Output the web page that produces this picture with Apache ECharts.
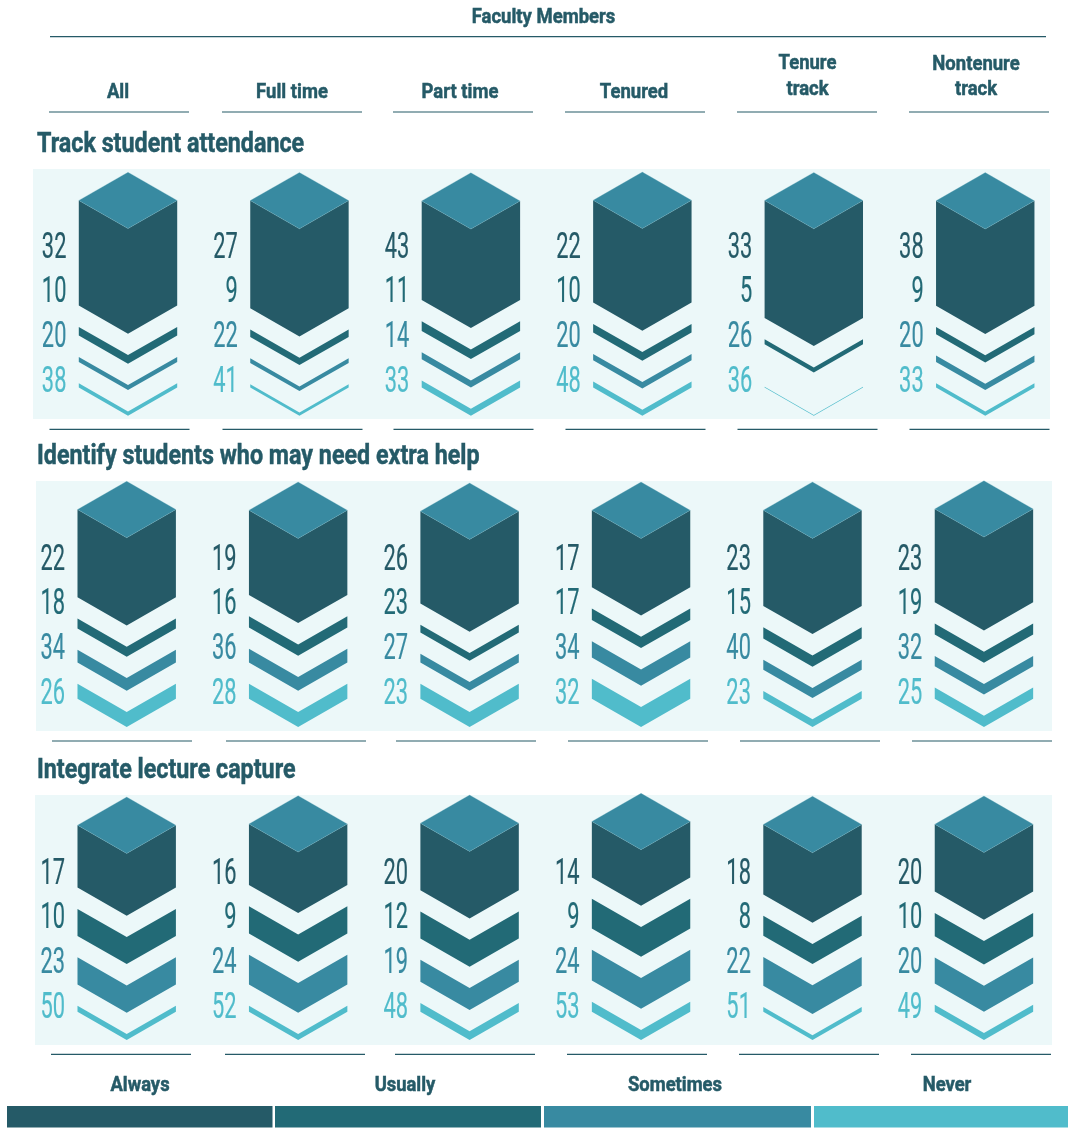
<!DOCTYPE html>
<html>
<head>
<meta charset="utf-8">
<style>html,body{margin:0;padding:0;background:#fff}#chart{width:1068px;height:1128px}</style>
<script src="https://cdn.jsdelivr.net/npm/echarts@6/dist/echarts.min.js"></script>
</head>
<body>
<div id="chart"></div>
<script>
// ---- text ----
const overTitle = 'Faculty Members';
const columnHeads = [['All'], ['Full time'], ['Part time'], ['Tenured'], ['Tenure', 'track'], ['Nontenure', 'track']];
const rowTitles = ['Track student attendance', 'Identify students who may need extra help', 'Integrate lecture capture'];
const responses = ['Always', 'Usually', 'Sometimes', 'Never'];
const colours = ['#255a67', '#226a76', '#388aa1', '#50bccb'];
const capColour = '#388aa1';
const ink = '#255a67';

// ---- printed percentages (column by column) ----
const attendanceLabels = [[32, 10, 20, 38], [27, 9, 22, 41], [43, 11, 14, 33], [22, 10, 20, 48], [33, 5, 26, 36], [38, 9, 20, 33]];
const helpLabels = [[22, 18, 34, 26], [19, 16, 36, 28], [26, 23, 27, 23], [17, 17, 34, 32], [23, 15, 40, 23], [23, 19, 32, 25]];
const captureLabels = [[17, 10, 23, 50], [16, 9, 24, 52], [20, 12, 19, 48], [14, 9, 24, 53], [18, 8, 22, 51], [20, 10, 20, 49]];

// ---- drawn depth of each band (column by column) ----
const attendanceDepths = [[105.2, 8.7, 5, 4.3], [107.7, 7.3, 4.7, 3.3], [99, 9.7, 7, 7], [102.3, 8.7, 6.3, 6], [117.3, 5, 0, 0.7], [104.9, 7.3, 6.3, 4.3]];
const helpDepths = [[87.7, 10, 12.7, 15], [84.7, 11.3, 13.7, 15], [92.3, 7.7, 8.7, 15], [77, 11.3, 16.3, 20], [95.7, 11.3, 10, 7.7], [93.4, 11, 10.3, 11.3]];
const captureDepths = [[62.4, 27, 27.3, 6], [61, 27.3, 29.7, 6], [67, 27, 22, 8.7], [56, 29.7, 30.7, 10], [70, 20, 28.7, 4.7], [67.3, 23.3, 26, 7]];

const labelSets = [attendanceLabels, helpLabels, captureLabels];
const depthSets = [attendanceDepths, helpDepths, captureDepths];

// ---- layout constants ----
const PANEL_H = 250, APEX = 28.2, GAP = 21.3, HALF = 0.287, LABEL_DX = 61.6;
const bottoms = [3.3, 4, 5];
const labelLevels = [170.3, 125.8, 81.3, 36.3];
const panels = [{x: 33, w: 1017, y: 169}, {x: 36, w: 1016, y: 481}, {x: 35, w: 1017, y: 795}];
const firstCentre = [128, 126.7, 126.7], COL = 171.45;
const ruleRows = [
  {y: 429.3, xs: [49.5, 222.5, 393.5, 565.5, 737.5, 909.5]},
  {y: 741, xs: [52, 226, 396, 568, 740, 912]},
  {y: 1054.3, xs: [51, 225, 395, 567, 739, 911]}
];

const headFont = 'bold 21px Roboto';
function txt(text, x, y, font, sx, align, fill) {
  return {type: 'text', x, y, scaleX: sx, silent: true, z: 3,
    style: {text, font, fill: fill || ink, stroke: fill || ink, lineWidth: 0.5, align: align || 'center', verticalAlign: 'middle'}};
}
function rule(x1, x2, y, w) {
  return {type: 'line', silent: true, z: 3, shape: {x1, y1: y, x2, y2: y}, style: {stroke: ink, lineWidth: w || 1.2}};
}

const graphics = [];
panels.forEach(p => graphics.push({type: 'rect', silent: true, z: 0, shape: {x: p.x, y: p.y, width: p.w, height: PANEL_H}, style: {fill: '#ecf8f9'}}));
graphics.push(txt(overTitle, 543.5, 18, headFont, 0.88));
graphics.push(rule(50, 1046, 36.6, 1.3));
const headX = [118, 292, 460, 634, 807.5, 976];
columnHeads.forEach((h, i) => {
  if (h.length === 1) graphics.push(txt(h[0], headX[i], 92.5, headFont, 0.88));
  else {
    graphics.push(txt(h[0], headX[i], i === 4 ? 64 : 65, headFont, 0.88));
    graphics.push(txt(h[1], headX[i], 89.5, headFont, 0.88));
  }
  const x = [49, 222, 393, 565, 737, 909][i];
  graphics.push(rule(x, x + 140, 112));
});
[[37, 145], [37, 457], [37, 771]].forEach((p, i) => graphics.push(txt(rowTitles[i], p[0], p[1], 'bold 28px Roboto', 0.832, 'left')));
ruleRows.forEach(r => r.xs.forEach(x => graphics.push(rule(x, x + 140, r.y))));
const legendX = [[7, 265.5], [275, 266], [544, 267], [814, 254]];
const legendTextX = [140, 405, 675, 947];
responses.forEach((r, i) => {
  graphics.push({type: 'rect', silent: true, z: 3, shape: {x: legendX[i][0], y: 1106, width: legendX[i][1], height: 21.5}, style: {fill: colours[i]}});
  graphics.push(txt(r, legendTextX[i], 1086, 'bold 20px Roboto', 0.92));
});

function renderBand(params, api) {
  const col = api.value(0), low = api.value(1), high = api.value(2), band = api.value(3);
  const half = COL * HALF;
  const c = api.coord([col, high])[0];
  const yTop = api.coord([col, high])[1], yLow = api.coord([col, low])[1];
  const dip = api.size([0, APEX])[1];
  const fill = colours[band];
  const children = [{type: 'polygon', silent: true,
    shape: {points: [[c - half, yTop], [c, yTop + dip], [c + half, yTop], [c + half, yLow], [c, yLow + dip], [c - half, yLow]]},
    style: {fill}}];
  if (band === 0) children.push({type: 'polygon', silent: true,
    shape: {points: [[c - half, yTop], [c, yTop - dip], [c + half, yTop], [c, yTop + dip]]},
    style: {fill: capColour, stroke: '#7fb9c8', lineWidth: 0.25}});
  return {type: 'group', children};
}
function renderLabel(params, api) {
  const p = api.coord([api.value(0), api.value(1)]);
  const fill = colours[api.value(3)];
  return {type: 'text', silent: true, x: p[0] - LABEL_DX, y: p[1], scaleX: 0.59,
    style: {text: String(api.value(2)), fill, stroke: fill, lineWidth: 0.2, font: '400 37px Roboto', align: 'right', verticalAlign: 'middle'}};
}

const grids = [], xAxes = [], yAxes = [], series = [];
depthSets.forEach((depths, r) => {
  grids.push({left: firstCentre[r], width: COL * 5, top: panels[r].y, height: PANEL_H});
  xAxes.push({type: 'category', gridIndex: r, show: false, boundaryGap: false, data: columnHeads.map(h => h.join(' '))});
  yAxes.push({type: 'value', gridIndex: r, show: false, min: 0, max: PANEL_H});
  const bands = [[], [], [], []];
  depths.forEach((d, c) => {
    let low = bottoms[r] + APEX;
    for (let b = 3; b >= 0; b--) {
      bands[b].push([c, low, low + d[b], b]);
      low += d[b] + GAP;
    }
  });
  bands.forEach((data, b) => series.push({type: 'custom', name: responses[b], xAxisIndex: r, yAxisIndex: r, data, renderItem: renderBand, silent: true, clip: false, encode: {x: 0, y: [1, 2]}}));
  const labelData = [];
  labelSets[r].forEach((vals, c) => vals.forEach((v, b) => labelData.push([c, labelLevels[b], v, b])));
  series.push({type: 'custom', xAxisIndex: r, yAxisIndex: r, data: labelData, renderItem: renderLabel, silent: true, clip: false, encode: {x: 0, y: 1}});
});

const chart = echarts.init(document.getElementById('chart'), null, {renderer: 'canvas'});
chart.setOption({animation: false, backgroundColor: '#fff', grid: grids, xAxis: xAxes, yAxis: yAxes, series, graphic: graphics, tooltip: {show: false}});
</script>
</body>
</html>
